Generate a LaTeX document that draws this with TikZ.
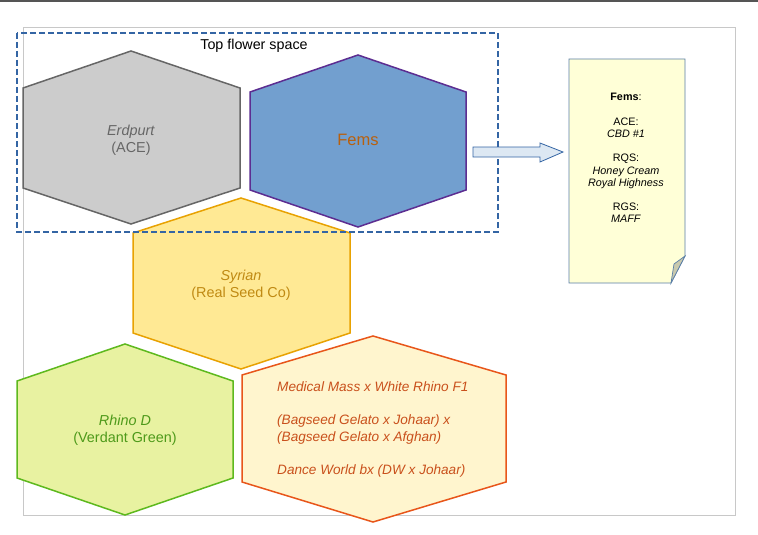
\documentclass[tikz,border=0pt]{standalone}
\usepackage{fontspec}
\setmainfont{Liberation Sans}
\definecolor{grayF}{HTML}{CCCCCC}
\definecolor{grayD}{HTML}{666666}
\definecolor{blueF}{HTML}{729FCF}
\definecolor{purpD}{HTML}{5C2D91}
\definecolor{femsT}{HTML}{B8600E}
\definecolor{yelF}{HTML}{FFE994}
\definecolor{yelD}{HTML}{E8A202}
\definecolor{yelT}{HTML}{C08A13}
\definecolor{grnF}{HTML}{E8F2A1}
\definecolor{grnD}{HTML}{5EB91E}
\definecolor{grnT}{HTML}{4E9A1A}
\definecolor{orF}{HTML}{FFF5CE}
\definecolor{orD}{HTML}{E8561A}
\definecolor{orT}{HTML}{C9501C}
\definecolor{noteF}{HTML}{FFFFD7}
\definecolor{noteD}{HTML}{5A7FA8}
\definecolor{foldF}{HTML}{C9C9AE}
\definecolor{dashB}{HTML}{3465A4}
\definecolor{arrF}{HTML}{DDE8F3}
\definecolor{pageD}{HTML}{C8C8C8}
\definecolor{topD}{HTML}{555555}
\tikzset{
  hexline/.style={line width=1.5pt, line join=miter},
  hextext/.style={align=center, font=\fontsize{14.4}{17.5}\selectfont},
  notetext/.style={align=center, font=\fontsize{10.8}{12.2}\selectfont},
}
\begin{document}
\begin{tikzpicture}[x=1pt,y=-1pt]
\useasboundingbox (0,0) rectangle (758,535);
\fill[white] (0,0) rectangle (758,535);
\draw[topD, line width=2pt] (0,1) -- (758,1);
% page
\draw[pageD, line width=0.8pt] (23,27) rectangle (735,515);
% hexagons
\draw[hexline, draw=grayD, fill=grayF] (131,51) -- (240,88) -- (240,188) -- (131,224) -- (23,188) -- (23,88) -- cycle;
\draw[hexline, draw=purpD, fill=blueF] (358,55) -- (466,92) -- (466,190) -- (358,227) -- (250,190) -- (250,92) -- cycle;
\draw[hexline, draw=yelD, fill=yelF] (241,198) -- (350,233) -- (350,333) -- (241,369) -- (133,333) -- (133,233) -- cycle;
\draw[hexline, draw=grnD, fill=grnF] (125,344) -- (233,381) -- (233,478) -- (125,515) -- (17,478) -- (17,381) -- cycle;
\draw[hexline, draw=orD, fill=orF] (373,336) -- (506,375) -- (506,482) -- (373,522) -- (242,482) -- (242,375) -- cycle;
% dashed group
\draw[dashB, line width=2pt, dash pattern=on 6pt off 3pt] (17,33) rectangle (498,232);
\node[font=\fontsize{14.3}{16}\selectfont] (title) at (254,46) {Top flower space};
% texts
\node[hextext, text=grayD] (erd) at (131,140.5) {\textit{Erdpurt}\\(ACE)};
\node[hextext, text=femsT, font=\fontsize{16.5}{18}\selectfont] (fems) at (358,139.5) {Fems};
\node[hextext, text=yelT] (syr) at (241,285.5) {\textit{Syrian}\\(Real Seed Co)};
\node[hextext, text=grnT] (rhino) at (125,430.5) {\textit{Rhino D}\\(Verdant Green)};
\node[align=left, anchor=north west, text=orT, inner sep=0pt, font=\fontsize{13.6}{16.5}\selectfont\itshape] (mm) at (277,381.5)
 {Medical Mass x White Rhino F1\\[16.5pt](Bagseed Gelato x Johaar) x\\(Bagseed Gelato x Afghan)\\[16.5pt]Dance World bx (DW x Johaar)};
% arrow
\draw[dashB, line width=0.8pt, fill=arrF] (473,147) -- (540,147) -- (540,143) -- (563,152) -- (540,162) -- (540,157) -- (473,157) -- cycle;
% note
\draw[noteD, line width=0.9pt, fill=noteF] (569,59) -- (685,59) -- (685,256) -- (671,283) -- (569,283) -- cycle;
\draw[noteD, line width=0.7pt, fill=foldF] (685,256) -- (674,264) -- (671,283) -- cycle;
\node[notetext, anchor=north] (note) at (626,90) {\textbf{Fems}:\\[12.2pt]ACE:\\\textit{CBD \#1}\\[12.2pt]RQS:\\\textit{Honey Cream}\\\textit{Royal Highness}\\[12.2pt]RGS:\\\textit{MAFF}};
\end{tikzpicture}
\end{document}
